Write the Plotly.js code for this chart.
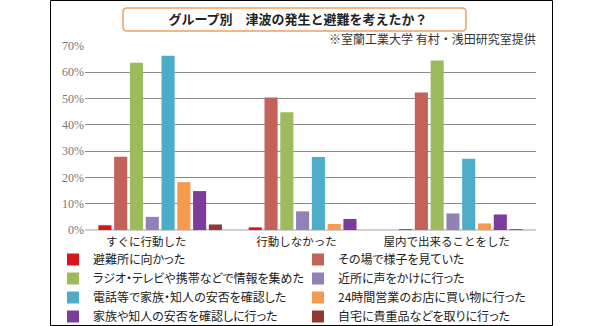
<!DOCTYPE html>
<html>
<head>
<meta charset="utf-8">
<script src="https://cdn.plot.ly/plotly-3.0.1.min.js"></script>
<style>
html,body{margin:0;padding:0;background:#fff;}
#chart{width:600px;height:326px;}
.legendtext{font-feature-settings:"palt" 1;}
</style>
</head>
<body>
<div id="chart"></div>
<script>
const categories = ['すぐに行動した', '行動しなかった', '屋内で出来ることをした'];
const seriesNames = [
  '避難所に向かった',
  'その場で様子を見ていた',
  'ラジオ・テレビや携帯などで情報を集めた',
  '近所に声をかけに行った',
  '電話等で家族・知人の安否を確認した',
  '24時間営業のお店に買い物に行った',
  '家族や知人の安否を確認しに行った',
  '自宅に貴重品などを取りに行った'
];
const s1 = [1.8, 1.0, 0.3];
const s2 = [27.9, 50.4, 52.3];
const s3 = [63.6, 44.8, 64.5];
const s4 = [5.0, 7.1, 6.3];
const s5 = [66.3, 27.8, 27.1];
const s6 = [18.2, 2.3, 2.5];
const s7 = [14.8, 4.2, 5.9];
const s8 = [2.1, 0, 0.3];
const seriesValues = [s1, s2, s3, s4, s5, s6, s7, s8];
const colors = ['#D8141C', '#C3625A', '#9DBB5C', '#9281B6', '#4DACC7', '#F59A4E', '#7B3C9C', '#8C3A34'];

const titleText = 'グループ別　津波の発生と避難を考えたか？';
const sourceText = '※室蘭工業大学 有村・浅田研究室提供';

const W = 600, H = 326;
const mL = 85, mR = 64, mT = 46, mB = 96;
const pw = W - mL - mR, ph = H - mT - mB;
const px = x => (x - mL) / pw;
const py = y => (H - mB - y) / ph;

const traces = seriesNames.map((n, i) => ({
  type: 'bar',
  name: n,
  x: categories,
  y: seriesValues[i],
  marker: {color: colors[i]},
  hoverinfo: 'name+y'
}));

function roundRect(x0, y0, x1, y1, r) {
  const rx = r / pw, ry = r / ph;
  const X0 = px(x0), X1 = px(x1), Y0 = py(y0), Y1 = py(y1);
  return `M${X0 + rx},${Y0} L${X1 - rx},${Y0} Q${X1},${Y0} ${X1},${Y0 - ry} L${X1},${Y1 + ry} Q${X1},${Y1} ${X1 - rx},${Y1} L${X0 + rx},${Y1} Q${X0},${Y1} ${X0},${Y1 + ry} L${X0},${Y0 - ry} Q${X0},${Y0} ${X0 + rx},${Y0} Z`;
}

const layout = {
  width: W, height: H,
  margin: {l: mL, r: mR, t: mT, b: mB, autoexpand: false},
  paper_bgcolor: '#fff', plot_bgcolor: '#fff',
  font: {family: '"Noto Sans CJK JP", sans-serif', color: '#222', size: 12},
  title: {
    text: '<b>' + titleText + '</b>',
    font: {family: '"Noto Sans CJK JP", sans-serif', size: 13, color: '#222'},
    x: 298 / W, xanchor: 'center', xref: 'container',
    y: 1 - 19 / H, yanchor: 'middle', yref: 'container'
  },
  barmode: 'group',
  bargap: 0.16,
  bargroupgap: 0.17,
  showlegend: true,
  legend: {
    orientation: 'h',
    x: px(53), xanchor: 'left',
    y: py(245), yanchor: 'top',
    entrywidth: 200, entrywidthmode: 'pixels',
    font: {family: '"Noto Sans CJK JP", sans-serif', size: 12, color: '#222'},
    itemwidth: 30,
    traceorder: 'normal',
    bgcolor: 'rgba(0,0,0,0)'
  },
  xaxis: {
    type: 'category',
    showgrid: false, showline: false, ticks: '',
    tickfont: {family: '"Noto Sans CJK JP", sans-serif', size: 11.5, color: '#222'},
    ticklabelshift: -14,
    ticklabelstandoff: 3,
    fixedrange: true
  },
  yaxis: {
    range: [0, 70], dtick: 10, ticksuffix: '%',
    showgrid: true, gridcolor: '#8c8c8c', gridwidth: 1,
    zeroline: true, zerolinecolor: '#cfcfcf', zerolinewidth: 2,
    showline: false, ticks: '',
    tickfont: {family: '"Liberation Serif", serif', size: 12, color: '#777'},
    fixedrange: true
  },
  annotations: [{
    text: sourceText,
    xref: 'paper', yref: 'paper',
    x: px(538), xanchor: 'right',
    y: py(39), yanchor: 'middle',
    showarrow: false,
    font: {family: '"Noto Sans CJK JP", sans-serif', size: 12, color: '#333'}
  }],
  shapes: [
    {type: 'rect', xref: 'paper', yref: 'paper', x0: px(50.5), x1: px(552.5), y0: py(0.5), y1: py(325.5),
     line: {color: '#000', width: 1}, fillcolor: 'rgba(0,0,0,0)', layer: 'above'},
    {type: 'path', xref: 'paper', yref: 'paper', path: roundRect(123, 8, 466, 31, 4),
     line: {color: '#F0A060', width: 1.5}, fillcolor: 'rgba(0,0,0,0)', layer: 'below'}
  ]
};

Plotly.newPlot('chart', traces, layout, {displayModeBar: false, staticPlot: true});
</script>
</body>
</html>
